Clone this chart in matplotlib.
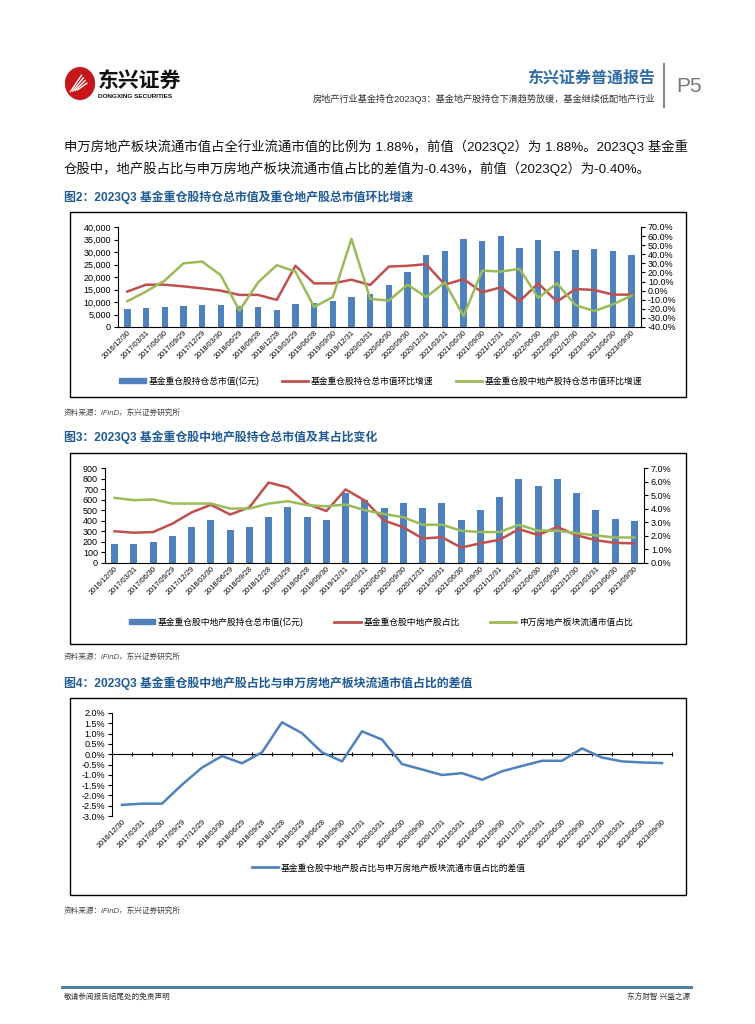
import numpy as np
import matplotlib
matplotlib.use('Agg')
import matplotlib.pyplot as plt
from matplotlib.patches import Rectangle, Circle, Patch
from matplotlib.lines import Line2D
from matplotlib.ticker import FuncFormatter

plt.rcParams['font.family'] = ['Liberation Sans', 'Noto Sans CJK SC']
plt.rcParams['axes.unicode_minus'] = False

W, H = 755, 1024
C_BAR = '#4F81BD'
C_RED = '#C0504D'
C_GRN = '#9BBB59'
C_HEAD = '#1F5A96'

dates = ['2016/12/30', '2017/03/31', '2017/06/30', '2017/09/29', '2017/12/29',
         '2018/03/30', '2018/06/29', '2018/09/28', '2018/12/28', '2019/03/29',
         '2019/06/28', '2019/09/30', '2019/12/31', '2020/03/31', '2020/06/30',
         '2020/09/30', '2020/12/31', '2021/03/31', '2021/06/30', '2021/09/30',
         '2021/12/31', '2022/03/31', '2022/06/30', '2022/09/30', '2022/12/30',
         '2023/03/31', '2023/06/30', '2023/09/30']

# 图2
fund_mv = [7300, 7500, 8200, 8600, 8800, 8800, 8600, 8200, 7000, 9200,
           9600, 10600, 12100, 13200, 16900, 22000, 28800, 30600, 35200, 34600,
           36300, 31700, 34700, 30400, 31000, 31400, 30400, 29000]
fund_qoq = [-1.0, 6.5, 6.5, 4.7, 2.5, 0.0, -4.7, -4.7, -10.2, 27.3,
            8.0, 8.0, 12.0, 6.2, 26.5, 27.3, 29.1, 6.5, 12.7, -1.8,
            3.6, -11.6, 8.0, -12.0, 1.8, 0.7, -4.4, -4.4]
re_qoq = [-11.6, -1.0, 11.0, 30.0, 32.0, 17.0, -22.0, 9.0, 28.0, 21.0,
          -18.0, -7.0, 57.0, -9.0, -11.0, 6.5, -7.0, 9.0, -28.0, 22.0,
          21.0, 24.0, -8.0, 8.0, -16.0, -22.5, -15.0, -5.5]

# 图3
re_mv = [180, 178, 200, 257, 345, 405, 315, 345, 440, 530,
         440, 410, 660, 595, 525, 565, 520, 570, 410, 505,
         630, 800, 730, 800, 665, 505, 420, 400]
re_share = [2.34, 2.23, 2.28, 2.90, 3.73, 4.29, 3.57, 4.10, 5.93, 5.57,
            4.35, 3.83, 5.42, 4.60, 3.13, 2.63, 1.81, 1.90, 1.14, 1.45,
            1.71, 2.50, 2.06, 2.66, 2.04, 1.68, 1.48, 1.45]
sw_share = [4.80, 4.63, 4.68, 4.38, 4.38, 4.38, 4.01, 4.01, 4.38, 4.55,
            4.26, 4.18, 4.31, 3.89, 3.61, 3.37, 2.82, 2.82, 2.38, 2.28,
            2.28, 2.82, 2.38, 2.38, 2.20, 2.03, 1.88, 1.88]

# 图4
diff = [-2.46, -2.40, -2.40, -1.48, -0.65, -0.09, -0.44, 0.09, 1.55, 1.02,
        0.09, -0.35, 1.11, 0.71, -0.48, -0.74, -1.01, -0.92, -1.24, -0.83,
        -0.57, -0.32, -0.32, 0.28, -0.16, -0.35, -0.40, -0.43]

fig = plt.figure(figsize=(W / 100, H / 100), dpi=100)


def box(x0, y0, x1, y1):
    return [x0 / W, 1 - y1 / H, (x1 - x0) / W, (y1 - y0) / H]


def ftxt(x, y, s, **kw):
    kw.setdefault('va', 'center')
    return fig.text(x / W, 1 - y / H, s, **kw)


def frame(x0, y0, x1, y1):
    fig.patches.append(Rectangle((x0 / W, 1 - y1 / H), (x1 - x0) / W, (y1 - y0) / H,
                                 transform=fig.transFigure, fill=False,
                                 edgecolor='black', lw=1.0))


def style_x(ax):
    x = np.arange(len(dates))
    ax.set_xticks(x)
    ax.set_xticklabels(dates, rotation=45, ha='right', rotation_mode='anchor', fontsize=5.3)
    ax.set_xlim(-0.5, len(dates) - 0.5)


pct = FuncFormatter(lambda v, p: f'{v:.1f}%')

# ---------- header ----------
lg = fig.add_axes(box(65, 67, 95, 100))
lg.set_xlim(0, 1); lg.set_ylim(0, 1); lg.axis('off')
lg.add_patch(Circle((0.5, 0.5), 0.48, color='#C8161D'))
for k in range(4):
    lg.plot([0.18 + k * 0.08, 0.55 + k * 0.06], [0.25 + k * 0.02, 0.75 - k * 0.08],
            color='white', lw=1.0)
ftxt(98, 81, '东兴证券', fontsize=15, fontweight='bold', color='#111111')
ftxt(98, 97, 'DONGXING SECURITIES', fontsize=4.6, fontweight='bold', color='#111111')
ftxt(655, 78, '东兴证券普通报告', fontsize=11.5, fontweight='bold', color='#2E6DA4', ha='right')
ftxt(655, 99, '房地产行业基金持仓2023Q3：基金地产股持仓下滑趋势放缓，基金继续低配地产行业',
     fontsize=6.6, color='#333333', ha='right')
fig.add_artist(Line2D([664 / W, 664 / W], [1 - 64 / H, 1 - 107 / H], color='#888888', lw=1.5))
ftxt(676, 86, 'P5', fontsize=15, color='#777777')

# ---------- paragraph ----------
ftxt(64, 147, '申万房地产板块流通市值占全行业流通市值的比例为 1.88%，前值（2023Q2）为 1.88%。2023Q3 基金重',
     fontsize=9.6, color='#111111')
ftxt(64, 169, '仓股中，地产股占比与申万房地产板块流通市值占比的差值为-0.43%，前值（2023Q2）为-0.40%。',
     fontsize=9.6, color='#111111')

# ---------- 图2 ----------
ftxt(64, 197, '图2：2023Q3 基金重仓股持仓总市值及重仓地产股总市值环比增速',
     fontsize=8.6, fontweight='bold', color=C_HEAD)
frame(70, 212, 686, 397)
ax1 = fig.add_axes(box(118, 227, 641, 327))
x = np.arange(len(dates))
ax1.bar(x, fund_mv, width=0.34, color=C_BAR)
ax1.set_ylim(0, 40000)
ax1.set_yticks(range(0, 40001, 5000))
ax1.yaxis.set_major_formatter(FuncFormatter(lambda v, p: f'{v:,.0f}'))
style_x(ax1)
ax1.tick_params(axis='x', length=0, pad=2)
ax1.tick_params(axis='y', labelsize=6.5, length=3, width=0.8, pad=2)
for s in ['top', 'right']:
    ax1.spines[s].set_visible(False)
ax1r = ax1.twinx()
ax1r.plot(x, fund_qoq, color=C_RED, lw=1.8)
ax1r.plot(x, re_qoq, color=C_GRN, lw=1.8)
ax1r.set_ylim(-40, 70)
ax1r.set_yticks(range(-40, 71, 10))
ax1r.yaxis.set_major_formatter(pct)
ax1r.tick_params(axis='y', labelsize=6.5, length=3, width=0.8, pad=2)
for s in ['top', 'left', 'bottom']:
    ax1r.spines[s].set_visible(False)
fig.legend([Patch(color=C_BAR), Line2D([], [], color=C_RED, lw=2), Line2D([], [], color=C_GRN, lw=2)],
           ['基金重仓股持仓总市值(亿元)', '基金重仓股持仓总市值环比增速', '基金重仓股中地产股持仓总市值环比增速'],
           loc='center', bbox_to_anchor=(381 / W, 1 - 381 / H), ncol=3, frameon=False,
           fontsize=6.3, handlelength=3, handleheight=0.45, columnspacing=2.6, handletextpad=0.3)
ftxt(64, 413, '资料来源：iFinD，东兴证券研究所', fontsize=5.5, color='#444444', style='italic')

# ---------- 图3 ----------
ftxt(64, 437, '图3：2023Q3 基金重仓股中地产股持仓总市值及其占比变化',
     fontsize=8.6, fontweight='bold', color=C_HEAD)
frame(70, 453, 686, 644)
ax2 = fig.add_axes(box(105, 468, 644, 563))
ax2.bar(x, re_mv, width=0.36, color=C_BAR)
ax2.set_ylim(0, 900)
ax2.set_yticks(range(0, 901, 100))
style_x(ax2)
ax2.tick_params(axis='x', length=0, pad=2)
ax2.tick_params(axis='y', labelsize=6.5, length=3, width=0.8, pad=2)
for s in ['top', 'right']:
    ax2.spines[s].set_visible(False)
ax2r = ax2.twinx()
ax2r.plot(x, re_share, color=C_RED, lw=1.8)
ax2r.plot(x, sw_share, color=C_GRN, lw=1.8)
ax2r.set_ylim(0, 7)
ax2r.set_yticks(range(0, 8))
ax2r.yaxis.set_major_formatter(pct)
ax2r.tick_params(axis='y', labelsize=6.5, length=3, width=0.8, pad=2)
for s in ['top', 'left', 'bottom']:
    ax2r.spines[s].set_visible(False)
fig.legend([Patch(color=C_BAR), Line2D([], [], color=C_RED, lw=2), Line2D([], [], color=C_GRN, lw=2)],
           ['基金重仓股中地产股持仓总市值(亿元)', '基金重仓股中地产股占比', '申万房地产板块流通市值占比'],
           loc='center', bbox_to_anchor=(381 / W, 1 - 622 / H), ncol=3, frameon=False,
           fontsize=6.3, handlelength=3, handleheight=0.45, columnspacing=3.5, handletextpad=0.3)
ftxt(64, 657, '资料来源：iFinD，东兴证券研究所', fontsize=5.5, color='#444444', style='italic')

# ---------- 图4 ----------
ftxt(64, 683, '图4：2023Q3 基金重仓股中地产股占比与申万房地产板块流通市值占比的差值',
     fontsize=8.6, fontweight='bold', color=C_HEAD)
frame(70, 698, 686, 895)
ax3 = fig.add_axes(box(112, 713, 672, 816))
ax3.plot(x, diff, color=C_BAR, lw=1.8)
ax3.set_ylim(-3, 2)
ax3.set_yticks(np.arange(-3, 2.01, 0.5))
ax3.yaxis.set_major_formatter(pct)
style_x(ax3)
ax3.tick_params(axis='x', length=0, pad=2)
ax3.tick_params(axis='y', labelsize=6.5, length=3, width=0.8, pad=2)
for s in ['top', 'right', 'bottom']:
    ax3.spines[s].set_visible(False)
zx = ax3.secondary_xaxis(0.6)
zx.set_xticks(np.arange(-0.5, len(dates), 1.0))
zx.set_xticklabels([])
zx.tick_params(length=3, width=0.8, direction='inout')
zx.spines['bottom'].set_linewidth(1.0)
fig.legend([Line2D([], [], color=C_BAR, lw=2)],
           ['基金重仓股中地产股占比与申万房地产板块流通市值占比的差值'],
           loc='center', bbox_to_anchor=(389 / W, 1 - 868 / H), frameon=False,
           fontsize=6.3, handlelength=3, handletextpad=0.3)
ftxt(64, 911, '资料来源：iFinD，东兴证券研究所', fontsize=5.5, color='#444444', style='italic')

# ---------- footer ----------
fig.add_artist(Line2D([62 / W, 691 / W], [1 - 987 / H, 1 - 987 / H], color='#4F7FA8', lw=2.2))
ftxt(64, 997, '敬请参阅报告结尾处的免责声明', fontsize=5.5, color='#333333')
ftxt(690, 997, '东方财智 兴盛之源', fontsize=5.5, color='#333333', ha='right')

fig.savefig('out.png', dpi=100)
